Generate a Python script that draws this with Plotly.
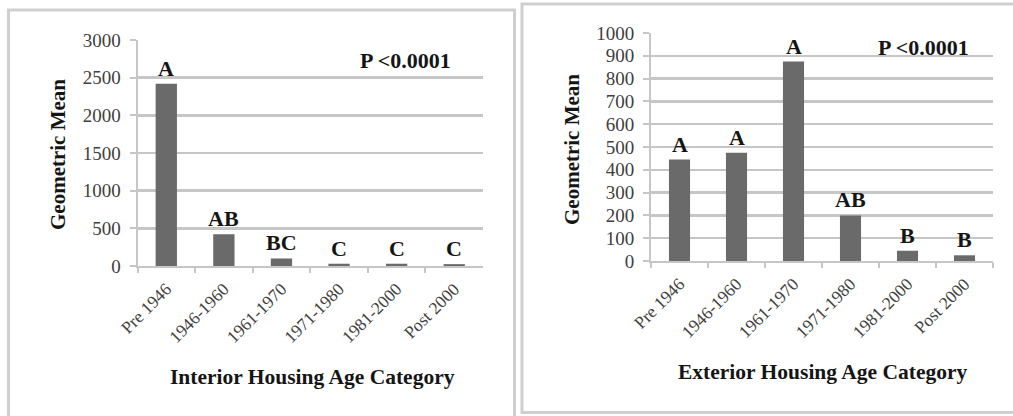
import plotly.graph_objects as go

categories = ["Pre 1946", "1946-1960", "1961-1970", "1971-1980", "1981-2000", "Post 2000"]
interior_values = [2420, 420, 100, 30, 30, 25]
interior_letters = ["A", "AB", "BC", "C", "C", "C"]
exterior_values = [445, 475, 875, 200, 45, 25]
exterior_letters = ["A", "A", "A", "AB", "B", "B"]
interior_ticks = [0, 500, 1000, 1500, 2000, 2500, 3000]
exterior_ticks = [0, 100, 200, 300, 400, 500, 600, 700, 800, 900, 1000]
p_text = "P <0.0001"
y_title = "Geometric Mean"
interior_x_title = "Interior Housing Age Category"
exterior_x_title = "Exterior Housing Age Category"

W, H = 1013, 416
SERIF = "Liberation Serif, Times New Roman, serif"
BAR = "#6a6a6a"
GRID = "#c6c6c6"
TXT = "#404040"
DARK = "#151515"

def px(x):
    return x / W

def py(y):
    return (H - y) / H

fig = go.Figure()
fig.add_trace(go.Bar(x=categories, y=interior_values, marker=dict(color=BAR, line=dict(width=0)),
                     width=0.37, xaxis="x", yaxis="y", showlegend=False, hoverinfo="skip"))
fig.add_trace(go.Bar(x=categories, y=exterior_values, marker=dict(color=BAR, line=dict(width=0)),
                     width=0.37, xaxis="x2", yaxis="y2", showlegend=False, hoverinfo="skip"))

common_x = dict(type="category", showgrid=False, showline=True, linecolor=GRID, linewidth=2,
                ticks="outside", tickson="boundaries", ticklen=5, tickcolor=GRID, tickwidth=2,
                tickangle=-45, tickfont=dict(family=SERIF, size=17.5, color=TXT), zeroline=False,
                automargin=False, fixedrange=True, ticklabelstandoff=4)
common_y = dict(showgrid=True, gridcolor=GRID, gridwidth=2.5, showline=True, linecolor=GRID,
                linewidth=2, ticks="outside", ticklen=6, tickcolor=GRID, tickwidth=2,
                tickfont=dict(family=SERIF, size=19, color=TXT), zeroline=False, automargin=False,
                fixedrange=True, ticklabelstandoff=5)

fig.update_layout(
    width=W, height=H, margin=dict(l=0, r=0, t=0, b=0, autoexpand=False),
    paper_bgcolor="white", plot_bgcolor="white",
    xaxis=dict(common_x, domain=[px(137.5), px(483)], anchor="y"),
    yaxis=dict(common_y, domain=[py(266), py(40)], range=[0, 3000], tickvals=interior_ticks, anchor="x"),
    xaxis2=dict(common_x, domain=[px(651), px(993)], anchor="y2"),
    yaxis2=dict(common_y, domain=[py(261), py(33)], range=[0, 1000], tickvals=exterior_ticks, anchor="x2"),
)

annotations = []
for xa, ya, vals, letters in [("x", "y", interior_values, interior_letters),
                              ("x2", "y2", exterior_values, exterior_letters)]:
    for c, v, t in zip(categories, vals, letters):
        annotations.append(dict(x=c, y=v, xref=xa, yref=ya, text="<b>%s</b>" % t, showarrow=False,
                                yanchor="bottom", yshift=1, font=dict(family=SERIF, size=22, color=DARK)))

def label(x, y, text, size, angle=0):
    annotations.append(dict(x=px(x), y=py(y), xref="paper", yref="paper", text="<b>%s</b>" % text,
                            showarrow=False, xanchor="center", yanchor="middle", textangle=angle,
                            font=dict(family=SERIF, size=size, color=DARK)))

label(405, 60, p_text, 22)
label(923, 47, p_text, 22)
label(58, 155, y_title, 21, -90)
label(572, 150, y_title, 21, -90)
label(312, 377, interior_x_title, 21.5)
label(822, 372, exterior_x_title, 21.5)
fig.update_layout(annotations=annotations)

fig.update_layout(shapes=[
    dict(type="rect", xref="paper", yref="paper", x0=px(8.5), x1=px(514.5), y0=py(430), y1=py(10),
         line=dict(color="#cfcfcf", width=3)),
    dict(type="rect", xref="paper", yref="paper", x0=px(522), x1=px(1030), y0=py(412.5), y1=py(4),
         line=dict(color="#cfcfcf", width=3)),
])

fig.write_html("out.html", config={"displayModeBar": False, "staticPlot": True},
               post_script="document.body.style.margin='0';document.body.style.padding='0';document.body.style.overflow='hidden';")
